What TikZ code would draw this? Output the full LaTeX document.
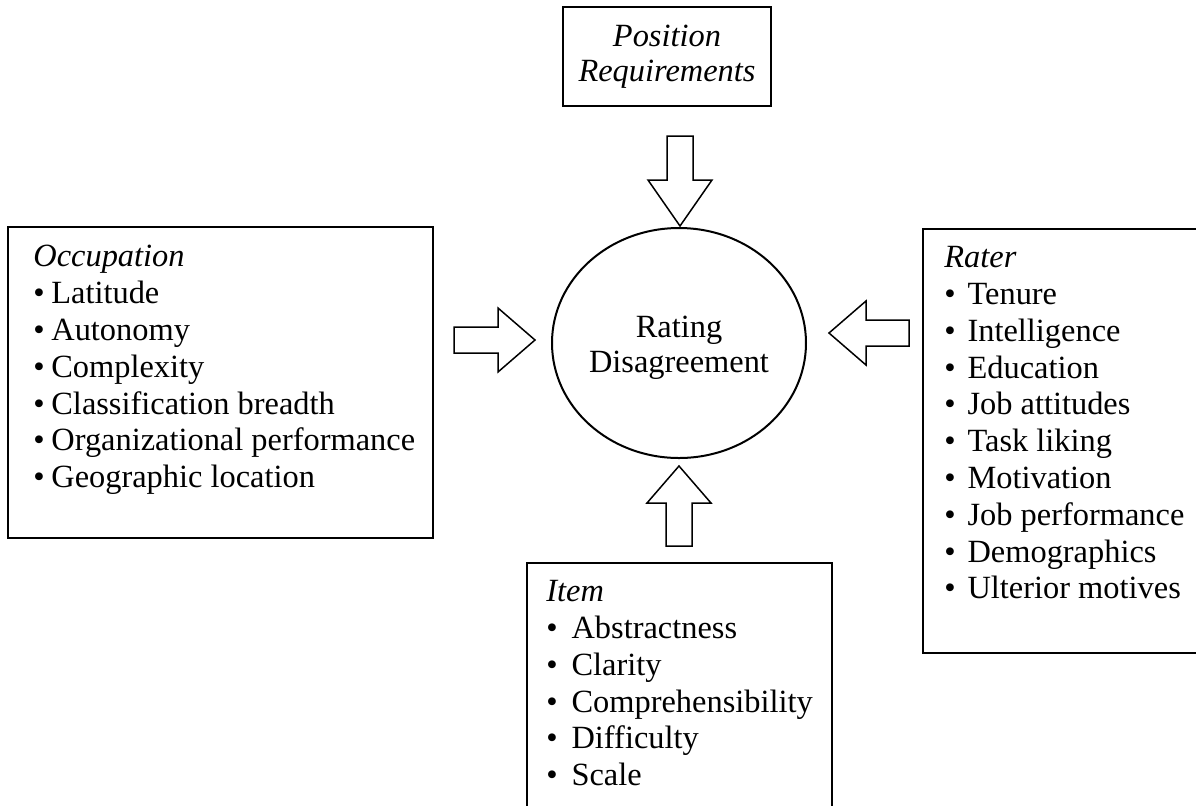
\documentclass[tikz,border=0pt]{standalone}
\usepackage{fontspec}
\setmainfont{Liberation Serif}
\usetikzlibrary{calc,positioning,shapes.geometric,fit}
\newlength{\listbulwd}
\newcommand{\listbul}{\makebox[\listbulwd][l]{\textbullet}}

\begin{document}
\begin{tikzpicture}[x=0.5pt, y=-0.5pt,
  listbox/.style={draw, line width=1pt, inner sep=0pt},
  listtext/.style={anchor=north west, align=left, inner sep=0pt, font=\fontsize{16.2}{18.4}\selectfont\setlength{\listbulwd}{#1}},
  pics/blockarrow/.style args={#1/#2}{code={
    \draw[line width=0.75pt, line join=miter] (0,0) -- (-#2,32) -- (-#2,13) -- (-#1,13) -- (-#1,-13) -- (-#2,-13) -- (-#2,-32) -- cycle;}}]
  \useasboundingbox (0,0) rectangle (1196,805);

  \node[draw, line width=1pt, minimum width=104pt, minimum height=49.5pt, inner sep=0pt, align=center, font=\fontsize{16.2}{17.5}\selectfont\itshape] (posreq) at (667,56.5) {Position\\Requirements};
  \node[ellipse, draw, line width=1pt, minimum width=127pt, minimum height=115pt, inner sep=0pt] (rating) at (679,343) {};
  \node[align=center, inner sep=0pt, font=\fontsize{16.2}{17.5}\selectfont] (ratingtext) at ($(rating.center)+(0,5)$) {Rating\\Disagreement};

  \coordinate (occA) at (8,227);
  \coordinate (occB) at (433,538);
  \node[listbox, fit=(occA)(occB)] (occbox) {};
  \node[listtext=9pt] (occtext) at ($(occbox.north west)+(26,19)$) {\textit{Occupation}\\
    \listbul Latitude\\
    \listbul Autonomy\\
    \listbul Complexity\\
    \listbul Classification breadth\\
    \listbul Organizational performance\\
    \listbul Geographic location};

  \coordinate (raterA) at (923,229);
  \coordinate (raterB) at (1215,653);
  \node[listbox, fit=(raterA)(raterB)] (raterbox) {};
  \node[listtext=11.6pt] (ratertext) at ($(raterbox.north west)+(22,18)$) {\textit{Rater}\\
    \listbul Tenure\\
    \listbul Intelligence\\
    \listbul Education\\
    \listbul Job attitudes\\
    \listbul Task liking\\
    \listbul Motivation\\
    \listbul Job performance\\
    \listbul Demographics\\
    \listbul Ulterior motives};

  \coordinate (itemA) at (527,563);
  \coordinate (itemB) at (832,825);
  \node[listbox, fit=(itemA)(itemB)] (itembox) {};
  \node[listtext=12.6pt] (itemtext) at ($(itembox.north west)+(20,18)$) {\textit{Item}\\
    \listbul Abstractness\\
    \listbul Clarity\\
    \listbul Comprehensibility\\
    \listbul Difficulty\\
    \listbul Scale};

  \pic[rotate=-90] at ($(rating.north)+(1,-1)$) {blockarrow=90/46};
  \pic at ($(rating.west)+(-16,-3)$) {blockarrow=81/37};
  \pic[rotate=180] at ($(rating.east)+(22,-10)$) {blockarrow=80/37};
  \pic[rotate=90] at ($(rating.south)+(0,7)$) {blockarrow=80/37};
\end{tikzpicture}
\end{document}
